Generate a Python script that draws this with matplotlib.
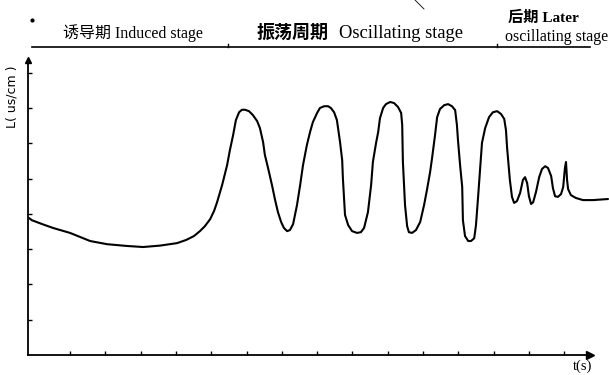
import matplotlib
matplotlib.use("Agg")
import matplotlib.pyplot as plt
from matplotlib.lines import Line2D

plt.rcParams["font.family"] = ["Liberation Serif", "Noto Sans CJK SC", "DejaVu Sans"]

# conductivity trace (both axes in tick units)
t_vals = [
    -0.16, -0.08, 0.21, 0.52, 1.00, 1.57, 2.05, 2.61, 3.07, 3.55, 4.03, 4.29,
    4.51, 4.68, 4.82, 4.97, 5.08, 5.16, 5.31, 5.45, 5.53, 5.62, 5.70, 5.79,
    5.87, 5.96, 6.07, 6.18, 6.30, 6.38, 6.47, 6.52, 6.61, 6.72, 6.81, 6.89,
    6.98, 7.06, 7.15, 7.23, 7.32, 7.43, 7.52, 7.60, 7.71, 7.80, 7.88, 8.00,
    8.08, 8.20, 8.31, 8.39, 8.48, 8.56, 8.65, 8.71, 8.73, 8.79, 8.88, 8.99,
    9.13, 9.24, 9.33, 9.44, 9.53, 9.58, 9.67, 9.73, 9.78, 9.87, 9.95, 10.07,
    10.18, 10.29, 10.38, 10.41, 10.43, 10.49, 10.55, 10.60, 10.69, 10.80,
    10.92, 11.03, 11.11, 11.20, 11.26, 11.34, 11.40, 11.48, 11.60, 11.71,
    11.82, 11.91, 11.96, 11.99, 12.05, 12.11, 12.13, 12.19, 12.28, 12.36,
    12.45, 12.50, 12.56, 12.67, 12.76, 12.87, 12.98, 13.10, 13.21, 13.30,
    13.35, 13.38, 13.46, 13.52, 13.58, 13.66, 13.75, 13.83, 13.89, 13.95,
    14.00, 14.06, 14.12, 14.20, 14.29, 14.37, 14.46, 14.54, 14.63, 14.68,
    14.74, 14.82, 14.91, 14.97, 15.02, 15.05, 15.08, 15.11, 15.19, 15.33,
    15.53, 15.82, 16.24,
]
L_vals = [
    3.88, 3.82, 3.71, 3.60, 3.46, 3.23, 3.14, 3.09, 3.06, 3.10, 3.17, 3.26,
    3.37, 3.51, 3.65, 3.85, 4.08, 4.31, 4.82, 5.38, 5.81, 6.23, 6.66, 6.88,
    6.95, 6.95, 6.91, 6.80, 6.63, 6.43, 6.03, 5.67, 5.30, 4.82, 4.39, 4.05,
    3.77, 3.60, 3.51, 3.54, 3.71, 4.25, 4.82, 5.38, 5.95, 6.32, 6.60, 6.86,
    7.00, 7.05, 7.05, 7.00, 6.88, 6.66, 6.03, 5.52, 5.01, 3.97, 3.68, 3.51,
    3.46, 3.48, 3.60, 4.05, 4.82, 5.47, 6.01, 6.32, 6.71, 7.00, 7.11, 7.17,
    7.14, 7.03, 6.86, 6.52, 5.47, 4.25, 3.65, 3.48, 3.46, 3.54,
    3.77, 4.25, 4.67, 5.18, 5.61, 6.23, 6.74, 6.97, 7.08, 7.11,
    7.05, 6.94, 6.52, 6.09, 5.38, 4.76, 3.82, 3.37, 3.23, 3.23,
    3.31, 3.68, 4.48, 6.01, 6.43, 6.74, 6.88, 6.91, 6.83, 6.69,
    6.37, 5.89, 4.96, 4.48, 4.31, 4.36, 4.59, 4.96, 5.04, 4.87,
    4.50, 4.28, 4.33, 4.62, 5.04, 5.27, 5.35, 5.30, 5.07, 4.73,
    4.50, 4.48, 4.56, 4.76, 5.30, 5.47, 4.96, 4.70, 4.53, 4.45,
    4.39, 4.39, 4.42,
]
x_ticks = list(range(1, 16))
y_ticks = list(range(1, 9))

W, H = 609, 375


def fp(x, y):
    # pixel position -> figure fraction
    return x / W, 1 - y / H


fig = plt.figure(figsize=(W / 100, H / 100), dpi=100)
ax = fig.add_axes([28 / W, 20 / H, 562 / W, 295 / H])
ax.set_xlim(-0.19, 15.73)
ax.set_ylim(0, 8.36)

ax.plot(t_vals, L_vals, color="black", lw=1.5, clip_on=False,
        solid_joinstyle="round", solid_capstyle="round")

for s in ["top", "right"]:
    ax.spines[s].set_visible(False)
for s in ["left", "bottom"]:
    ax.spines[s].set_linewidth(1.3)
ax.set_xticks(x_ticks)
ax.set_yticks(y_ticks)
ax.tick_params(direction="in", length=3, width=1, labelbottom=False,
               labelleft=False)
ax.plot(1, 0, ">k", ms=6, transform=ax.transAxes, clip_on=False)
ax.plot(0, 1, "^k", ms=5, transform=ax.transAxes, clip_on=False)

# header bar with stage separators
x0, y0 = fp(32, 47)
x1, _ = fp(590, 47)
fig.add_artist(Line2D([x0, x1], [y0, y0], color="black", lw=1.2))
for sx in [228, 497]:
    a, b = fp(sx, 47)
    _, b2 = fp(sx, 44)
    fig.add_artist(Line2D([a, a], [b, b2], color="black", lw=1))
a, b = fp(32, 20)
fig.add_artist(Line2D([a], [b], marker="o", ms=2, color="black"))
a, b = fp(415, 0)
c, d = fp(424, 9)
fig.add_artist(Line2D([a, c], [b, d], color="black", lw=0.6))

fig.text(*fp(63, 33), "诱导期 Induced stage", fontsize=11.5, va="center")
fig.text(*fp(257, 33), "振荡周期", fontsize=13, va="center",
         fontweight="bold")
fig.text(*fp(339, 33), "Oscillating stage", fontsize=13.3, va="center")
fig.text(*fp(508, 18), "后期 Later", fontsize=11, va="center",
         fontweight="bold")
fig.text(*fp(505, 37), "oscillating stage", fontsize=11.5, va="center")

fig.text(*fp(12, 97), "L( us/cm )", rotation=90, fontsize=9,
         family="DejaVu Sans", ha="center", va="center")
fig.text(*fp(583, 370), "t(s)", fontsize=10.5, ha="center", va="baseline")

fig.savefig("out.png", dpi=100)
